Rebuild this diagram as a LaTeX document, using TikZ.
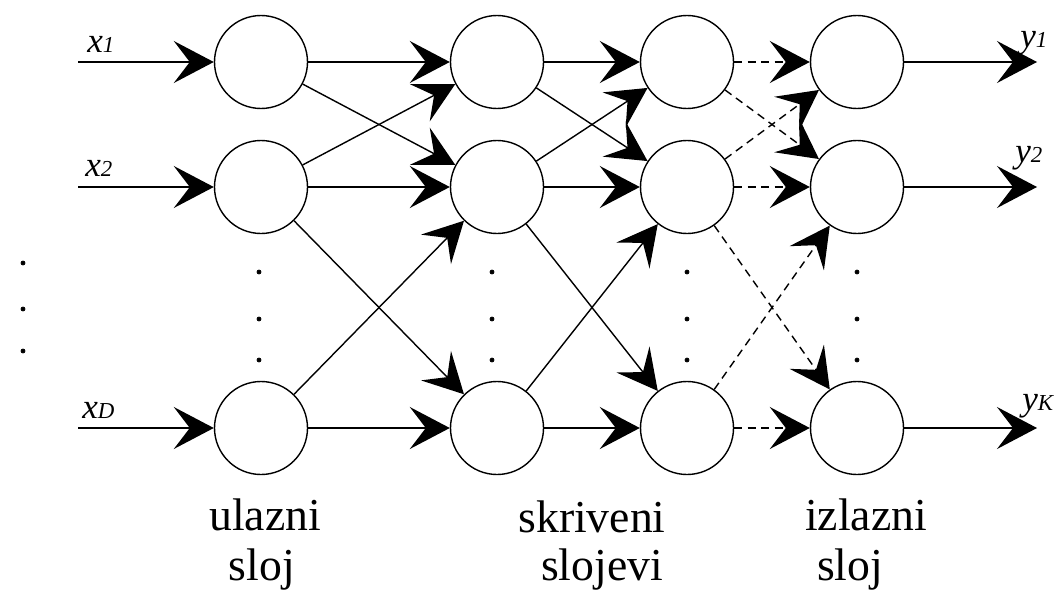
\documentclass[tikz,border=0pt]{standalone}
\usepackage{fontspec}
\setmainfont{Liberation Serif}
\usetikzlibrary{arrows.meta}

\newcommand{\malo}[1]{{\fontsize{13}{13}\selectfont #1}}

\tikzset{
    neuron/.style={circle,draw,thick,minimum size=1.86cm,inner sep=0pt},
    veza/.style={thick,-{Stealth[length=8mm,width=8.4mm,inset=3.2mm]}},
    crtkano/.style={veza,dash pattern=on 1.6mm off 1.1mm},
    natpis/.style={font=\fontsize{26}{28}\selectfont,anchor=base,inner sep=0pt},
    oznaka/.style={font=\fontsize{20}{20}\selectfont\itshape,anchor=base west,inner sep=0pt}
}

\begin{document}
\begin{tikzpicture}
    \useasboundingbox (0,0) rectangle (21.16,11.82);
    % ulazni sloj
    \node[neuron] (u1) at (5.22,10.58) {};
    \node[neuron] (u2) at (5.22,8.08) {};
    \node[neuron] (u3) at (5.22,3.26) {};
    % skriveni slojevi
    \node[neuron] (s1) at (9.94,10.58) {};
    \node[neuron] (s2) at (9.94,8.08) {};
    \node[neuron] (s3) at (9.94,3.26) {};
    \node[neuron] (t1) at (13.74,10.58) {};
    \node[neuron] (t2) at (13.74,8.08) {};
    \node[neuron] (t3) at (13.74,3.26) {};
    % izlazni sloj
    \node[neuron] (i1) at (17.14,10.58) {};
    \node[neuron] (i2) at (17.14,8.08) {};
    \node[neuron] (i3) at (17.14,3.26) {};

    \coordinate (x1) at (1.56,10.58);
    \coordinate (x2) at (1.56,8.08);
    \coordinate (xD) at (1.56,3.26);
    \coordinate (y1) at (20.74,10.58);
    \coordinate (y2) at (20.74,8.08);
    \coordinate (yK) at (20.74,3.26);

    \node[oznaka] (lx1) at (1.74,10.78) {x\malo{1}};
    \node[oznaka] (lx2) at (1.70,8.30) {x\malo{2}};
    \node[oznaka] (lxD) at (1.64,3.46) {x\malo{D}};
    \node[oznaka] (ly1) at (20.40,10.88) {y\malo{1}};
    \node[oznaka] (ly2) at (20.30,8.58) {y\malo{2}};
    \node[oznaka] (lyK) at (20.44,3.62) {y\malo{K}};

    \draw[veza] (x1) -- (u1);
    \draw[veza] (x2) -- (u2);
    \draw[veza] (xD) -- (u3);

    \draw[veza] (u1) -- (s1);
    \draw[veza] (u1) -- (s2);
    \draw[veza] (u2) -- (s1);
    \draw[veza] (u2) -- (s2);
    \draw[veza] (u2) -- (s3);
    \draw[veza] (u3) -- (s2);
    \draw[veza] (u3) -- (s3);

    \draw[veza] (s1) -- (t1);
    \draw[veza] (s1) -- (t2);
    \draw[veza] (s2) -- (t1);
    \draw[veza] (s2) -- (t2);
    \draw[veza] (s2) -- (t3);
    \draw[veza] (s3) -- (t2);
    \draw[veza] (s3) -- (t3);

    \draw[crtkano] (t1) -- (i1);
    \draw[crtkano] (t1) -- (i2);
    \draw[crtkano] (t2) -- (i1);
    \draw[crtkano] (t2) -- (i2);
    \draw[crtkano] (t2) -- (i3);
    \draw[crtkano] (t3) -- (i2);
    \draw[crtkano] (t3) -- (i3);

    \draw[veza] (i1) -- (y1);
    \draw[veza] (i2) -- (y2);
    \draw[veza] (i3) -- (yK);

    % tockice
    \filldraw (0.46,6.56) circle (0.04);
    \filldraw (0.46,5.64) circle (0.04);
    \filldraw (0.46,4.80) circle (0.04);
    \filldraw (5.18,6.38) circle (0.04);
    \filldraw (5.18,5.44) circle (0.04);
    \filldraw (5.18,4.62) circle (0.04);
    \filldraw (9.84,6.38) circle (0.04);
    \filldraw (9.84,5.44) circle (0.04);
    \filldraw (9.84,4.62) circle (0.04);
    \filldraw (13.74,6.38) circle (0.04);
    \filldraw (13.74,5.44) circle (0.04);
    \filldraw (13.74,4.62) circle (0.04);
    \filldraw (17.14,6.38) circle (0.04);
    \filldraw (17.14,5.44) circle (0.04);
    \filldraw (17.14,4.62) circle (0.04);

    \node[natpis] (n1a) at (5.30,1.22) {ulazni};
    \node[natpis] (n1b) at (5.24,0.22) {sloj};
    \node[natpis] (n2a) at (11.84,1.18) {skriveni};
    \node[natpis] (n2b) at (12.04,0.22) {slojevi};
    \node[natpis] (n3a) at (17.32,1.22) {izlazni};
    \node[natpis] (n3b) at (17.00,0.22) {sloj};
\end{tikzpicture}
\end{document}
